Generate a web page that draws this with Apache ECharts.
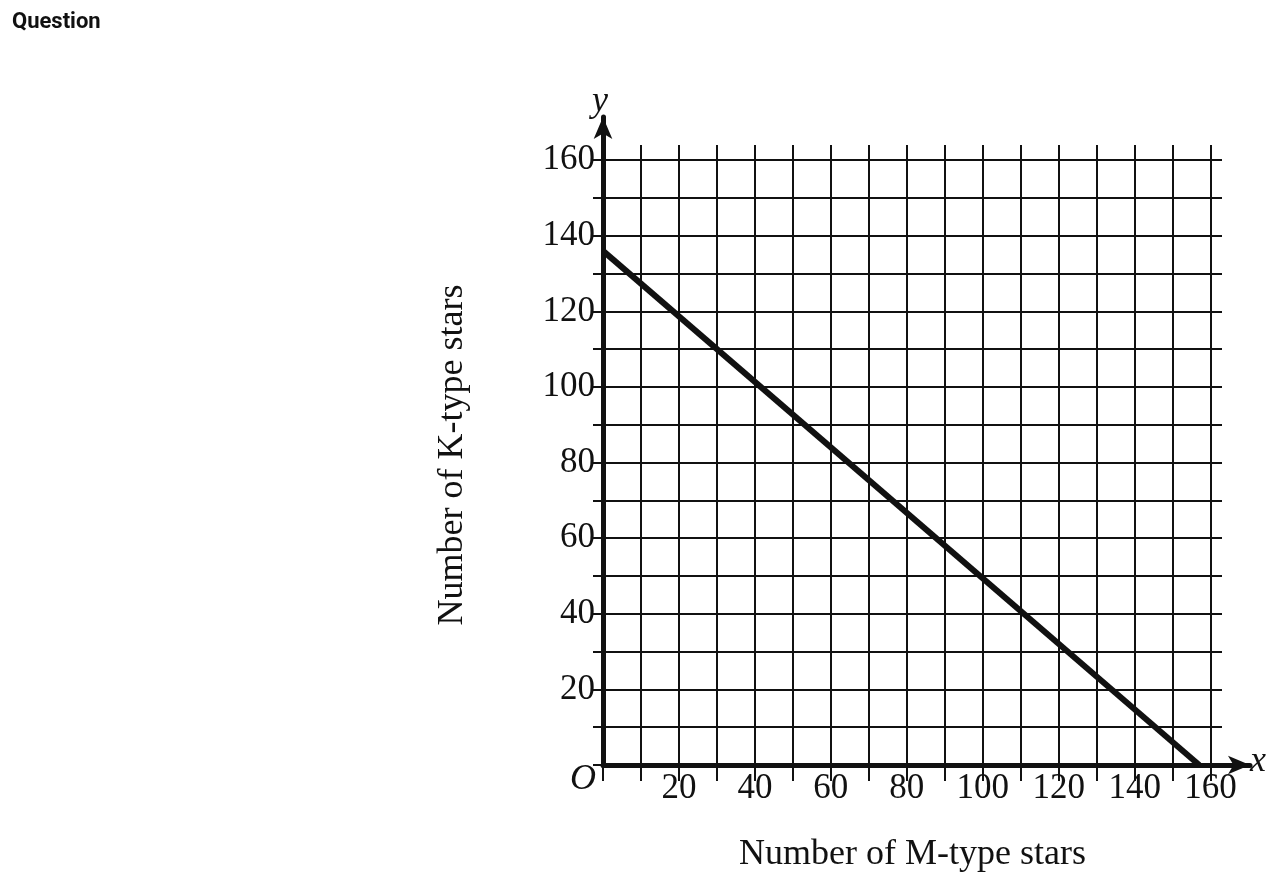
<!DOCTYPE html>
<html>
<head>
<meta charset="utf-8">
<script src="https://cdn.jsdelivr.net/npm/echarts@6/dist/echarts.min.js"></script>
<style>
  html, body { margin: 0; padding: 0; background: #fff; }
  #chart { width: 1277px; height: 884px; }
</style>
</head>
<body>
<div id="chart"></div>
<script>
// line through the two intercepts
const lineX = [0, 157];
const lineY = [136, 0];
const xTicks = [20, 40, 60, 80, 100, 120, 140, 160];
const yTicks = [20, 40, 60, 80, 100, 120, 140, 160];

const serif = '"Liberation Serif", "DejaVu Serif", serif';
const chart = echarts.init(document.getElementById('chart'));

// second grid only carries the two arrowed axis lines, sticking out past the grid
const arrowAxis = {
    type: 'value', min: 0, max: 170, axisLabel: { show: false }, axisTick: { show: false },
    splitLine: { show: false },
    axisLine: {
        show: true, symbol: ['none', 'arrow'], symbolSize: [14, 22],
        lineStyle: { color: '#111', width: 5 }
    }
};

chart.setOption({
    animation: false,
    grid: [
        { left: 603, right: 55, top: 145, bottom: 119 },
        { left: 603, right: 27, top: 117, bottom: 119 }
    ],
    title: {
        text: 'Question', left: 7, top: 6,
        textStyle: { fontFamily: 'Roboto', fontWeight: 'bold', fontSize: 22, color: '#111' }
    },
    xAxis: [{
        type: 'value', min: 0, max: 163, interval: 10,
        name: 'Number of M-type stars', nameLocation: 'middle', nameGap: 72,
        nameTextStyle: { fontFamily: serif, fontSize: 36, color: '#111' },
        axisLine: { show: false },
        axisTick: { show: true, length: 16, lineStyle: { color: '#111', width: 2 } },
        axisLabel: {
            fontFamily: serif, fontSize: 35, color: '#111', margin: 6,
            showMaxLabel: false,
            formatter: v => xTicks.includes(v) ? String(v) : ''
        },
        splitLine: { show: true, showMaxLine: false, lineStyle: { color: '#111', width: 2 } }
    }, Object.assign({ gridIndex: 1 }, arrowAxis)],
    yAxis: [{
        type: 'value', min: 0, max: 164, interval: 10,
        name: 'Number of K-type stars', nameLocation: 'middle', nameGap: 132,
        nameTextStyle: { fontFamily: serif, fontSize: 36, color: '#111' },
        axisLine: { show: false },
        axisTick: { show: true, length: 10, lineStyle: { color: '#111', width: 2 } },
        axisLabel: {
            fontFamily: serif, fontSize: 35, color: '#111', margin: 8,
            showMaxLabel: false,
            formatter: v => yTicks.includes(v) ? String(v) : ''
        },
        splitLine: { show: true, showMaxLine: false, lineStyle: { color: '#111', width: 2 } }
    }, Object.assign({ gridIndex: 1 }, arrowAxis)],
    series: [{
        type: 'line',
        data: lineX.map((x, i) => [x, lineY[i]]),
        symbol: 'none',
        clip: false,
        lineStyle: { color: '#111', width: 6 }
    }],
    graphic: [
        { type: 'text', left: 592, top: 84,
          style: { text: 'y', font: 'italic 36px ' + serif, fill: '#111' } },
        { type: 'text', left: 1250, top: 744,
          style: { text: 'x', font: 'italic 36px ' + serif, fill: '#111' } },
        { type: 'text', left: 570, top: 762,
          style: { text: 'O', font: 'italic 36px ' + serif, fill: '#111' } }
    ]
});
</script>
</body>
</html>
